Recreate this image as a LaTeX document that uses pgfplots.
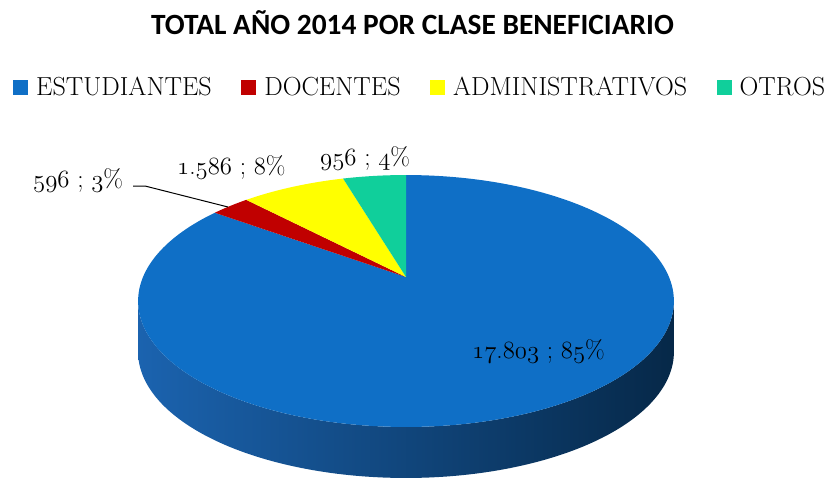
\documentclass[border=0pt]{standalone}
\usepackage{fontspec}
\usepackage{pgfplots}
\usepackage{pgfplotstable}
\pgfplotsset{compat=1.18}
\newfontfamily\titlefont{Carlito}
\newcommand\osn[1]{{\fontencoding{OML}\fontfamily{lmm}\fontseries{m}\fontshape{it}\selectfont #1}}
\definecolor{cEst}{HTML}{0F6FC6}
\definecolor{cDoc}{HTML}{C00000}
\definecolor{cAdm}{HTML}{FFFF00}
\definecolor{cOtr}{HTML}{10CF9B}
\definecolor{sideL}{HTML}{1B63AF}
\definecolor{sideM}{HTML}{0B3B6B}
\definecolor{sideR}{HTML}{062848}

\pgfplotstableread{
clase value
ESTUDIANTES 17803
DOCENTES 596
ADMINISTRATIVOS 1586
OTROS 956
}\datatable
\pgfplotstablegetelem{0}{value}\of\datatable \let\vA\pgfplotsretval
\pgfplotstablegetelem{1}{value}\of\datatable \let\vB\pgfplotsretval
\pgfplotstablegetelem{2}{value}\of\datatable \let\vC\pgfplotsretval
\pgfplotstablegetelem{3}{value}\of\datatable \let\vD\pgfplotsretval
\edef\tot{\fpeval{\vA+\vB+\vC+\vD}}
\edef\aA{\fpeval{90-360*\vA/\tot}}
\edef\aB{\fpeval{\aA-360*\vB/\tot}}
\edef\aC{\fpeval{\aB-360*\vC/\tot}}
\edef\aD{\fpeval{\aC-360*\vD/\tot}}
% perspective pie geometry (screen pixels)
\def\cx{406}\def\cy{277}\def\rx{263}\def\ry{121.4}\def\kk{0.1905}\def\dep{51}
\edef\tL{\fpeval{-180+asind(\kk)}}
\edef\tR{\fpeval{-asind(\kk)}}

\begin{document}
\begin{tikzpicture}
\begin{axis}[
  scale only axis, width=830bp, height=485bp,
  xmin=0, xmax=830, ymin=0, ymax=485, y dir=reverse,
  hide axis, clip=false,
  declare function={
    px(\t)=\cx+\rx*cos(\t)/(1+\kk*sin(\t));
    py(\t)=\cy-\ry*sin(\t)/(1+\kk*sin(\t));
    th(\s)=ifthenelse(\s<=1, \tL+(\tR-\tL)*\s, \tR-(\tR-\tL)*(\s-1));
    off(\s)=ifthenelse(\s<=1, 0, \dep);
  },
  legend image code/.code={\fill[#1] (0bp,-8.5bp) rectangle (15bp,6.5bp);},
  legend style={at={(10/830,1-87/485)}, anchor=west, draw=none, fill=none,
    legend columns=4, font=\fontsize{26.2}{30}\selectfont,
    nodes={inner sep=0pt},
    /tikz/every odd column/.append style={column sep=8bp},
    /tikz/every even column/.append style={column sep=29.5bp}},
]
\path (axis cs:0,0) rectangle (axis cs:830,485);
% side wall
\addplot[draw=none, left color=sideL, middle color=sideM, right color=sideR,
  domain=0:2, samples=401, variable=\s, forget plot]
  ({px(th(\s))}, {py(th(\s))+off(\s)}) -- cycle;
% top face sectors
\addplot[draw=none, fill=cEst, domain=\aA:90, samples=200, variable=\t]
  ({px(\t)}, {py(\t)}) -- (axis cs:\cx,\cy) -- cycle;
\addlegendentry{ESTUDIANTES}
\addplot[draw=none, fill=cDoc, domain=\aB:\aA, samples=20, variable=\t]
  ({px(\t)}, {py(\t)}) -- (axis cs:\cx,\cy) -- cycle;
\addlegendentry{DOCENTES}
\addplot[draw=none, fill=cAdm, domain=\aC:\aB, samples=30, variable=\t]
  ({px(\t)}, {py(\t)}) -- (axis cs:\cx,\cy) -- cycle;
\addlegendentry{ADMINISTRATIVOS}
\addplot[draw=none, fill=cOtr, domain=\aD:\aC, samples=20, variable=\t]
  ({px(\t)}, {py(\t)}) -- (axis cs:\cx,\cy) -- cycle;
\addlegendentry{OTROS}
% title
\node[anchor=base, inner sep=0pt, font=\titlefont\bfseries\fontsize{29.5}{33}\selectfont]
  at (axis cs:412.5,35) {TOTAL AÑO 2014 POR CLASE BENEFICIARIO};
% data labels
\begin{scope}[every node/.style={anchor=base west, inner sep=0pt, font=\fontsize{25.5}{28}\selectfont}]
\node at (axis cs:472,358) {\osn{17}.\osn{803} ; \osn{85}\%};
\node at (axis cs:177,174) {\osn{1}.\osn{586} ; \osn{8}\%};
\node at (axis cs:320,165) {\osn{956} ; \osn{4}\%};
\node at (axis cs:33,187) {\osn{596} ; \osn{3}\%};
\end{scope}
\draw[black, line width=1bp] (axis cs:133,186) -- (axis cs:145,186) -- (axis cs:228,207);
\end{axis}
\end{tikzpicture}
\end{document}
